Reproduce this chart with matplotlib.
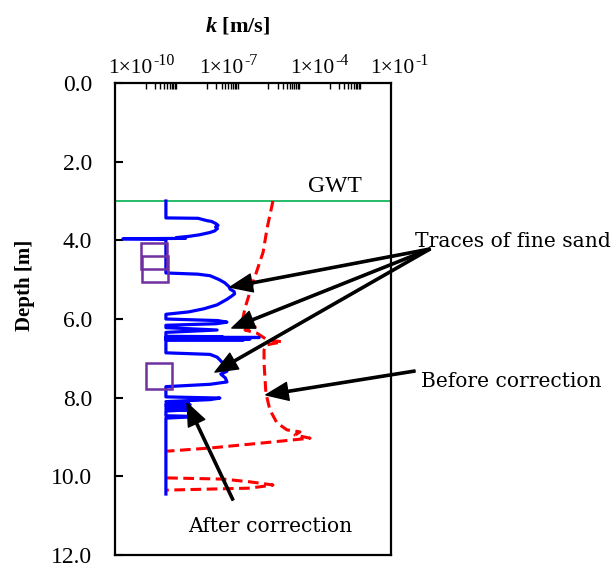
import numpy as np
import matplotlib
matplotlib.use('Agg')
import matplotlib.pyplot as plt

plt.rcParams['font.family'] = ['Liberation Serif', 'DejaVu Serif']
plt.rcParams['mathtext.fontset'] = 'custom'
plt.rcParams['mathtext.rm'] = 'Liberation Serif'
plt.rcParams['mathtext.it'] = 'Liberation Serif:italic'
plt.rcParams['mathtext.bf'] = 'Liberation Serif:bold:italic'

# ---- data (depth in m, log10 of k in m/s) ----
after_depth = [3.00, 3.43, 3.44, 3.50, 3.52, 3.58, 3.62, 3.66, 3.70, 3.76, 3.80, 3.86, 3.90, 3.93,
               3.95, 3.96, 3.97, 3.98, 4.83, 4.86, 4.90, 5.00, 5.08, 5.18, 5.24, 5.30, 5.36, 5.42,
               5.50, 5.64, 5.74, 5.82, 5.88, 6.00, 6.04, 6.08, 6.12, 6.16, 6.22, 6.28, 6.34, 6.44,
               6.45, 6.46, 6.47, 6.48, 6.49, 6.50, 6.51, 6.52, 6.53, 6.54, 6.86, 6.90, 6.97, 7.04,
               7.15, 7.22, 7.28, 7.33, 7.40, 7.50, 7.60, 7.66, 7.72, 7.98, 8.01, 8.05, 8.10, 8.14,
               8.16, 8.18, 8.20, 8.22, 8.24, 8.27, 8.29, 8.31, 8.34, 8.46, 8.48, 8.52, 10.45]
after_logk = [-9.34, -9.34, -8.29, -8.00, -7.85, -7.70, -7.64, -7.72, -7.66, -7.75, -7.90, -8.25, -8.60, -9.00,
              -8.70, -10.74, -9.60, -9.34, -9.34, -8.30, -7.90, -7.60, -7.42, -7.28, -7.25, -7.12, -7.10, -7.20,
              -7.35, -7.67, -8.10, -8.60, -9.34, -9.34, -7.65, -7.35, -7.70, -9.34, -9.34, -7.67, -9.34, -9.34,
              -7.50, -9.34, -6.30, -9.34, -7.00, -9.34, -6.60, -9.34, -6.80, -9.34, -9.34, -7.90, -7.67, -7.58,
              -7.45, -7.35, -7.50, -7.35, -7.55, -7.40, -7.35, -7.90, -9.34, -9.34, -7.58, -7.90, -9.34, -8.60,
              -9.34, -8.55, -9.34, -8.60, -9.34, -8.55, -9.34, -8.60, -9.34, -9.34, -8.25, -9.34, -9.34]

before_depth_a = [3.00, 3.69, 4.30, 5.14, 5.72, 6.10, 6.20, 6.28, 6.36, 6.53, 6.58, 6.66, 6.79, 7.12,
                  7.88, 8.31, 8.64, 8.82, 8.87, 8.95, 9.03, 9.15, 9.28, 9.36]
before_logk_a = [-5.85, -6.04, -6.17, -6.53, -6.76, -6.86, -6.43, -6.76, -6.37, -6.04, -5.55, -6.07, -6.14, -6.14,
                 -6.08, -5.95, -5.72, -5.39, -4.97, -5.13, -4.64, -6.17, -7.90, -9.30]
before_depth_b = [10.04, 10.07, 10.14, 10.22, 10.30, 10.35]
before_logk_b = [-9.30, -7.48, -6.60, -5.85, -6.60, -9.30]

sample_depth = [4.41, 4.72, 7.44]
sample_logk = [-9.73, -9.68, -9.55]

gwt_depth = 3.0
ytick_vals = [0, 2, 4, 6, 8, 10, 12]
xlabel_bases = ['1×10', '1×10', '1×10', '1×10']
xlabel_exps = ['-10', '-7', '-4', '-1']

W, H = 614, 566
fig = plt.figure(figsize=(W / 100, H / 100), dpi=100)
ax = fig.add_axes([115 / W, 1 - 555 / H, 276 / W, 472 / H])

def fx(px):
    return px / W

def fy(py):
    return 1 - py / H

ax.set_xscale('log')
ax.set_xlim(1e-11, 1e-2)
ax.set_ylim(12, 0)

ax.axhline(gwt_depth, color='#00B050', lw=1.2, zorder=1)
ax.plot(10 ** np.array(before_logk_a), before_depth_a, color='#FF0000', lw=2.2,
        dashes=(3.5, 1.8), zorder=2)
ax.plot(10 ** np.array(before_logk_b), before_depth_b, color='#FF0000', lw=2.2,
        dashes=(3.5, 1.8), zorder=2)
ax.plot(10 ** np.array(after_logk), after_depth, color='#0000FF', lw=2.3, zorder=3)
ax.plot(10 ** np.array(sample_logk), sample_depth, linestyle='none', marker='s', ms=19,
        mfc='none', mec='#7030A0', mew=1.8, zorder=4)

# ticks
ax.xaxis.set_ticks_position('top')
minor = []
for n in [-10, -8, -6, -4]:
    for k in range(1, 11):
        minor.append(k * 10.0 ** n)
ax.set_xticks(minor)
ax.set_xticks([], minor=True)
ax.tick_params(axis='x', which='major', direction='in', length=4, width=1.0,
               labeltop=False, labelbottom=False)
ax.set_yticks(ytick_vals)
ax.set_yticklabels(['%.1f' % v for v in ytick_vals])
ax.tick_params(axis='y', direction='in', length=6, width=1.5, pad=16.5, labelsize=17)
for s in ax.spines.values():
    s.set_linewidth(1.6)

# x tick labels (manual)
split_x = [152, 243, 334, 414]
for sx, b, e in zip(split_x, xlabel_bases, xlabel_exps):
    fig.text(fx(sx), fy(73), b, ha='right', va='baseline', fontsize=15.5)
    fig.text(fx(sx + 1), fy(65), e, ha='left', va='baseline', fontsize=11.5)

fig.text(fx(238), fy(31), r'$\mathbf{k}$ [m/s]', ha='center', va='baseline',
         fontsize=16, fontweight='bold')
fig.text(fx(25), fy(285), 'Depth [m]', rotation=90, ha='center', va='center',
         fontsize=15, fontweight='bold')
fig.text(fx(335), fy(192), 'GWT', ha='center', va='baseline', fontsize=17)

ann_font = dict(family='DejaVu Serif', fontsize=14.6)
fig.text(fx(415), fy(247), 'Traces of fine sand', ha='left', va='baseline', **ann_font)
fig.text(fx(421), fy(387), 'Before correction', ha='left', va='baseline', **ann_font)
fig.text(fx(188), fy(532), 'After correction', ha='left', va='baseline', **ann_font)

arrow = dict(facecolor='black', edgecolor='black', width=1.6, headwidth=13,
             headlength=16, shrink=0)
for tip in [(10 ** -7.25, 5.19), (10 ** -7.19, 6.23), (10 ** -7.74, 7.35)]:
    ax.annotate('', xy=tip, xycoords='data', xytext=(fx(430), fy(249)),
                textcoords='figure fraction', arrowprops=arrow, annotation_clip=False)
ax.annotate('', xy=(10 ** -6.08, 7.93), xycoords='data', xytext=(fx(415), fy(371)),
            textcoords='figure fraction', arrowprops=arrow, annotation_clip=False)
ax.annotate('', xy=(10 ** -8.65, 8.14), xycoords='data', xytext=(fx(233), fy(500)),
            textcoords='figure fraction', arrowprops=arrow, annotation_clip=False)

fig.savefig('out.png', dpi=100)
